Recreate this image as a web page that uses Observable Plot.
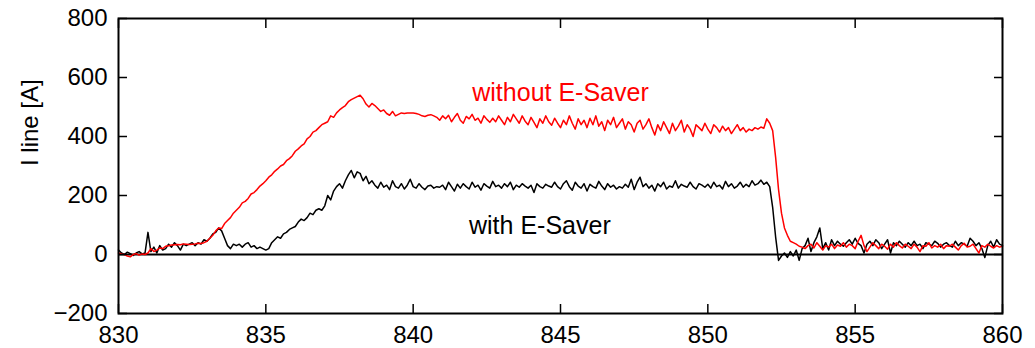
<!DOCTYPE html>
<html>
<head>
<meta charset="utf-8">
<script src="https://cdn.jsdelivr.net/npm/d3@7"></script>
<script src="https://cdn.jsdelivr.net/npm/@observablehq/plot@0.6"></script>
<style>
  html, body { margin: 0; padding: 0; background: #fff; }
  svg { display: block; }
</style>
</head>
<body>
<div id="chart"></div>
<script>
// time axis: 830.0 .. 860.0 in 0.1 steps (301 samples)
const tStart = 830;
const tStep = 0.1;

const withoutESaver = [
  5, 2, 0, -5, -8, 0, 3, -2, 2, 0,
  5, 20, 10, 15, 22, 20, 28, 30, 32, 33,
  34, 33, 36, 35, 34, 35, 36, 38, 37, 40,
  45, 55, 65, 80, 90, 88, 105, 115, 125, 140,
  150, 160, 175, 180, 190, 205, 210, 220, 232, 240,
  250, 262, 270, 282, 290, 300, 305, 318, 325, 335,
  350, 358, 368, 375, 392, 400, 415, 420, 430, 440,
  445, 450, 470, 465, 480, 490, 498, 505, 518, 525,
  530, 535, 540, 528, 510, 500, 512, 505, 495, 485,
  490, 478, 472, 485, 470, 475, 480, 478, 480, 480,
  480, 478, 475, 470, 468, 472, 474, 470, 465, 455,
  470, 460, 472, 450, 465, 478, 455, 445, 468, 460,
  475, 455, 462, 445, 470, 458, 448, 462, 450, 470,
  455, 440, 465, 450, 475, 460, 445, 470, 452, 440,
  465, 448, 430, 460, 445, 470, 450, 438, 462, 445,
  430, 455, 440, 470, 445, 425, 460, 440, 455, 430,
  462, 440, 470, 435, 450, 420, 455, 440, 465, 430,
  445, 460, 425, 450, 440, 415, 445, 455, 425, 440,
  460, 430, 405, 440, 420, 450, 430, 410, 445, 420,
  435, 455, 415, 440, 425, 400, 440, 430, 420, 445,
  425, 410, 440, 430, 415, 435, 420, 430, 410, 425,
  440, 420, 430, 415, 425, 420, 430, 425, 432, 428,
  460, 445, 420, 330, 220, 140, 90, 65, 45, 40,
  35, 28, 25, 20, 30, 35, 22, 40, 28, 15,
  30, 25, 35, 20, 32, 28, 40, 25, 35, 30,
  20, 45, 65, 30, 10, 25, 40, 30, 20, 35,
  28, 18, 35, 25, 40, 30, 22, 35, 28, 20,
  35, 25, 10, 30, 28, 40, 22, 30, 25, 35,
  20, 30, 28, 35, 25, 15, 30, 38, 25, 28,
  35, 20, 5, 30, 25, 35, 28, 22, 30, 25,
  28
];

const withESaver = [
  15, 5, 0, 8, 3, -3, 5, 10, 2, 5,
  75, 10, 25, 5, 30, 15, 20, 35, 25, 40,
  30, 15, 35, 30, 35, 40, 30, 40, 35, 50,
  45, 55, 70, 75, 90, 80, 55, 30, 20, 35,
  30, 35, 25, 35, 40, 25, 30, 20, 25, 20,
  15, 20, 40, 50, 60, 55, 70, 75, 85, 90,
  95, 110, 120, 115, 125, 140, 135, 150, 155, 150,
  165, 200, 185, 215, 230, 240, 225, 250, 270, 285,
  260, 280, 275, 250, 265, 240, 250, 235, 225, 245,
  228, 235, 220, 250, 230, 225, 240, 222, 235, 255,
  230, 225, 240, 228, 220, 232, 235, 225, 230, 228,
  235, 220, 245, 230, 215, 238, 225, 240, 230, 222,
  245, 228, 235, 218, 240, 232, 225, 248, 230, 235,
  225, 240, 230, 245, 220, 235, 228, 240, 232, 225,
  235, 210, 240, 230, 225, 238, 232, 228, 245, 230,
  222, 240, 250, 230, 218, 245, 232, 225, 240, 215,
  238, 230, 225, 248, 232, 220, 240, 228, 235, 222,
  230, 225, 238, 228, 255, 220, 245, 262, 230, 240,
  225, 235, 215, 240, 230, 245, 222, 232, 228, 250,
  225, 238, 232, 228, 245, 230, 222, 240, 235, 228,
  238, 225, 245, 230, 235, 222, 248, 230, 240, 225,
  232, 245, 228, 238, 230, 250, 235, 240, 252, 238,
  245, 230, 160, 60, -20, -5, 5, -10, 10, -5,
  15, -20, 20, 30, 55, 10, 40, 60, 90, 20,
  40, 15, 50, 30, 45, 35, 28, 40, 50, 35,
  55, 38, 30, 5, 35, 45, 30, 50, 40, 20,
  35, 50, 5, 40, 30, 45, 35, 25, 40, 30,
  45, 30, 35, 20, 40, 35, 30, 45, 38, 25,
  35, 40, 30, 25, 45, 30, 40, 35, 28, 55,
  45, 30, 40, 20, -10, 30, 45, 25, 50, 35,
  30
];

const xTicks = [830, 835, 840, 845, 850, 855, 860];
const yTicks = [-200, 0, 200, 400, 600, 800];
const yLabel = "I line [A]";

const labelText = ["without E-Saver", "with E-Saver"];
const labelX = [845.0, 844.3];
const labelY = [549, 98];
const labelColor = ["#ff0000", "#000000"];

const toRows = (arr) => arr.map((v, i) => ({t: +(tStart + i * tStep).toFixed(1), v}));
const red = toRows(withoutESaver);
const black = toRows(withESaver);
const labels = labelText.map((s, i) => ({s, x: labelX[i], y: labelY[i], c: labelColor[i]}));

const font = "'Liberation Sans', Arial, Helvetica, sans-serif";

const chart = Plot.plot({
  width: 1035,
  height: 348,
  marginLeft: 118,
  marginRight: 33,
  marginTop: 18,
  marginBottom: 35,
  style: {fontFamily: font, fontSize: "24px", color: "#000", background: "#fff", overflow: "visible"},
  x: {domain: [830, 860]},
  y: {domain: [-200, 800]},
  marks: [
    Plot.ruleY([0], {stroke: "#000", strokeWidth: 2}),
    Plot.line(black, {x: "t", y: "v", stroke: "#000", strokeWidth: 1.5}),
    Plot.line(red, {x: "t", y: "v", stroke: "#ff0000", strokeWidth: 1.5}),
    Plot.axisX(xTicks, {anchor: "bottom", tickSize: -9, tickPadding: 21, fontSize: 24, label: null, stroke: "#000", strokeWidth: 1.5}),
    Plot.axisX(xTicks, {anchor: "top", tickSize: -9, tickFormat: () => "", label: null, stroke: "#000", strokeWidth: 1.5}),
    Plot.axisY(yTicks, {anchor: "left", tickSize: -9, tickPadding: 20, fontSize: 24, label: null, stroke: "#000", strokeWidth: 1.5}),
    Plot.axisY(yTicks, {anchor: "right", tickSize: -9, tickFormat: () => "", label: null, stroke: "#000", strokeWidth: 1.5}),
    Plot.frame({stroke: "#000", strokeWidth: 2}),
    Plot.text([yLabel], {frameAnchor: "left", dx: -88, rotate: -90, fontSize: 24, fill: "#000", text: d => d}),
    Plot.text(labels, {x: "x", y: "y", text: "s", fill: "c", fontSize: 25})
  ]
});

document.getElementById("chart").appendChild(chart);
</script>
</body>
</html>
